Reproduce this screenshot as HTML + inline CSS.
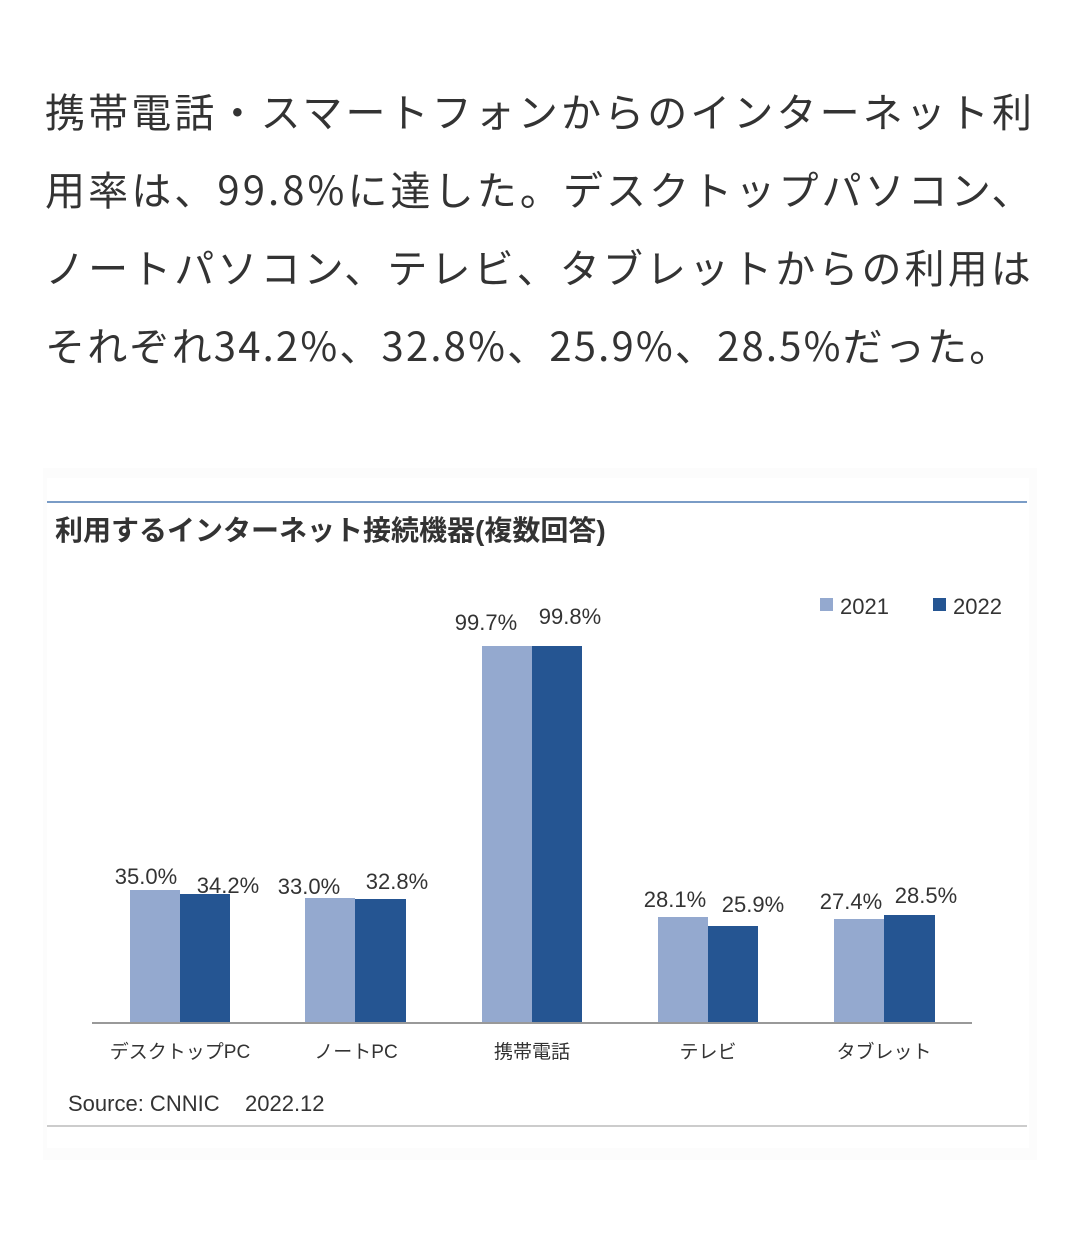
<!DOCTYPE html>
<html><head><meta charset="utf-8"><style>
body{margin:0;width:1079px;height:1258px;background:#fff;overflow:hidden;font-family:"Liberation Sans","Noto Sans CJK JP",sans-serif;}
.l{position:absolute;left:45px;font-family:"Noto Sans CJK JP",sans-serif;font-size:40px;line-height:50px;color:#333;letter-spacing:3.1px;white-space:nowrap}
</style></head><body>
<div class="l" style="top:85px">携帯電話・スマートフォンからのインターネット利</div>
<div class="l" style="top:163px">用率は、99.8%に達した。デスクトップパソコン、</div>
<div class="l" style="top:241px">ノートパソコン、テレビ、タブレットからの利用は</div>
<div class="l" style="top:319px;letter-spacing:2.2px">それぞれ34.2%、32.8%、25.9%、28.5%だった。</div>
<svg style="position:absolute;left:0;top:0" width="1079" height="1258" font-family="Liberation Sans, Noto Sans CJK JP, sans-serif">
<rect x="43" y="468" width="994" height="692" fill="#fcfcfc"/>
<rect x="47" y="478" width="982" height="670" fill="#fff"/>
<line x1="47" y1="502" x2="1027" y2="502" stroke="#7a9cc6" stroke-width="2"/>
<text x="55" y="540" font-size="28" font-weight="bold" fill="#333">利用するインターネット接続機器(複数回答)</text>
<rect x="820" y="598" width="13" height="13" fill="#94a9cf"/><text x="840" y="614" font-size="22" fill="#333">2021</text>
<rect x="933" y="598" width="13" height="13" fill="#255592"/><text x="953" y="614" font-size="22" fill="#333">2022</text>
<g fill="#94a9cf">
<rect x="130" y="890" width="50" height="133"/><rect x="305" y="898" width="50" height="125"/><rect x="482" y="646" width="50" height="377"/><rect x="658" y="917" width="50" height="106"/><rect x="834" y="919" width="50" height="104"/></g>
<g fill="#255592">
<rect x="180" y="894" width="50" height="129"/><rect x="355" y="899" width="51" height="124"/><rect x="532" y="646" width="50" height="377"/><rect x="708" y="926" width="50" height="97"/><rect x="884" y="915" width="51" height="108"/></g>
<line x1="92" y1="1023" x2="972" y2="1023" stroke="#999" stroke-width="2"/>
<g font-size="22" fill="#333" text-anchor="middle">
<text x="146" y="884">35.0%</text><text x="228" y="893">34.2%</text><text x="309" y="894">33.0%</text><text x="397" y="889">32.8%</text>
<text x="486" y="630">99.7%</text><text x="570" y="624">99.8%</text>
<text x="675" y="907">28.1%</text><text x="753" y="912">25.9%</text><text x="851" y="909">27.4%</text><text x="926" y="903">28.5%</text>
</g>
<g font-size="19" fill="#333" text-anchor="middle">
<text x="180" y="1058">デスクトップPC</text><text x="356" y="1058">ノートPC</text><text x="532" y="1058">携帯電話</text><text x="708" y="1058">テレビ</text><text x="884" y="1058">タブレット</text>
</g>
<text x="68" y="1111" font-size="22" fill="#333">Source: CNNIC</text>
<text x="245" y="1111" font-size="22" fill="#333">2022.12</text>
<line x1="47" y1="1126" x2="1027" y2="1126" stroke="#ccc" stroke-width="2"/>
</svg>
</body></html>
